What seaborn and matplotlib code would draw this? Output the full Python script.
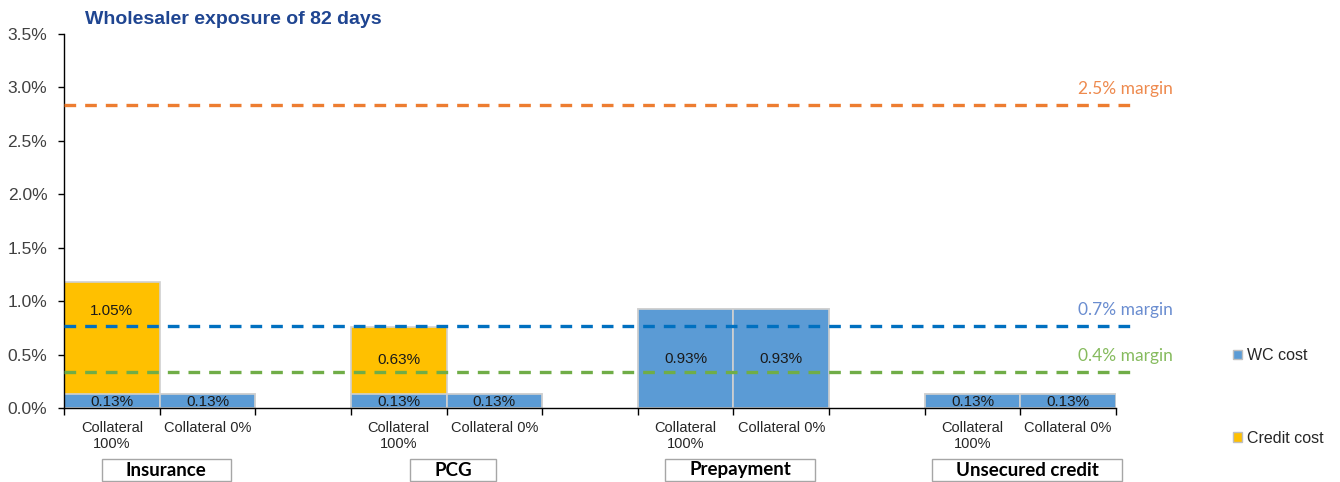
import numpy as np
import pandas as pd
import matplotlib
matplotlib.use("Agg")
import matplotlib.pyplot as plt
from matplotlib.patches import Patch, Rectangle
from matplotlib.ticker import FuncFormatter, FixedLocator
from matplotlib.transforms import blended_transform_factory
import seaborn as sns

# ---- data -------------------------------------------------------------
groups = ["Insurance", "PCG", "Prepayment", "Unsecured credit"]
collateral = ["Collateral\n100%", "Collateral 0%"]
wc_cost = [0.13, 0.13, 0.13, 0.13, 0.93, 0.93, 0.13, 0.13]        # %
credit_cost = [1.05, 0.0, 0.63, 0.0, 0.0, 0.0, 0.0, 0.0]          # %
margin_labels = ["2.5% margin", "0.7% margin", "0.4% margin"]
margin_levels = [2.835, 0.767, 0.337]                              # %
y_ticks = [0.0, 0.5, 1.0, 1.5, 2.0, 2.5, 3.0, 3.5]
title = "Wholesaler exposure of 82 days"

# ---- styling ----------------------------------------------------------
WC_COLOR = "#5B9BD5"
CREDIT_COLOR = "#FFC000"
EDGE = "#D0D0D0"
line_colors = ["#ED7D31", "#0070C0", "#70AD47"]
label_colors = ["#EE8A4E", "#6A8DD0", "#86BB5E"]
ARIAL = "Liberation Sans"
CALIBRI = "Lato"

sns.set_theme(style="white")
plt.rcParams["font.family"] = [ARIAL, "DejaVu Sans"]

W, H = 1340, 482

# two bars per group, one empty slot between groups
n_sub = len(collateral)
pos = [g * (n_sub + 1) + s for g in range(len(groups)) for s in range(n_sub)]
df = pd.DataFrame({
    "pos": pos,
    "wc": wc_cost,
    "credit": credit_cost,
})
df["total"] = df["wc"] + df["credit"]

fig = plt.figure(figsize=(W / 100, H / 100), dpi=100)
ax = fig.add_axes([64 / W, 1 - 408 / H, (1116 - 64) / W, (408 - 34) / H])

# stacked bars: full stack in credit colour, WC portion drawn over it
sns.barplot(data=df, x="pos", y="total", native_scale=True, width=1.0,
            color=CREDIT_COLOR, saturation=1, edgecolor=EDGE, linewidth=1.2, ax=ax)
sns.barplot(data=df, x="pos", y="wc", native_scale=True, width=1.0,
            color=WC_COLOR, saturation=1, edgecolor=EDGE, linewidth=1.2, ax=ax)

xmin, xmax = -0.5, max(pos) + 0.5
ax.set_xlim(xmin, xmax)
ax.set_ylim(0, 3.5)

# margin reference lines, running a little past the last bar
for lvl, c in zip(margin_levels, line_colors):
    ax.axhline(lvl, xmin=0, xmax=1.021, color=c, lw=2.4, dashes=(3.5, 2.7),
               clip_on=False, zorder=5)
for lvl, txt, c in zip(margin_levels, margin_labels, label_colors):
    ax.text(1.0545, lvl + 0.075, txt, transform=ax.get_yaxis_transform(),
            ha="right", va="bottom", fontsize=12.5, color=c, family=CALIBRI,
            clip_on=False)

# value labels
label_nudge = {0: 0.255}
for i, row in df.iterrows():
    ax.text(row["pos"], row["wc"] / 2 - 0.01, f"{row['wc']:.2f}%", ha="center",
            va="center", fontsize=11, color="#1A1A1A", zorder=6)
    if row["credit"] > 0:
        y = row["wc"] + row["credit"] / 2 + label_nudge.get(i, 0)
        ax.text(row["pos"], y, f"{row['credit']:.2f}%", ha="center",
                va="center", fontsize=11, color="#1A1A1A", zorder=6)

# axes cosmetics
for side in ["top", "right"]:
    ax.spines[side].set_visible(False)
for side in ["left", "bottom"]:
    ax.spines[side].set_color("#000000")
    ax.spines[side].set_linewidth(1.0)
ax.set_xlabel("")
ax.set_ylabel("")

ax.yaxis.set_major_locator(FixedLocator(y_ticks))
ax.yaxis.set_major_formatter(FuncFormatter(lambda v, _: f"{v:.1f}%"))
ax.tick_params(axis="y", left=True, length=4, width=1, color="#000000",
               labelsize=12.5, labelcolor="#404040", pad=8)

# tick marks on bar edges, labels under bar centres
edges = sorted({p - 0.5 for p in pos} | {p + 0.5 for p in pos})
ax.xaxis.set_major_locator(FixedLocator(edges))
ax.xaxis.set_major_formatter(FuncFormatter(lambda v, _: ""))
ax.xaxis.set_minor_locator(FixedLocator(pos))
ax.set_xticklabels([collateral[i % n_sub] for i in range(len(pos))], minor=True)
ax.tick_params(axis="x", which="major", bottom=True, length=5, width=1,
               color="#000000")
ax.tick_params(axis="x", which="minor", bottom=True, length=0, labelsize=10.5,
               labelcolor="#262626", pad=9)
ax.grid(False)

# group name boxes under each pair
trans = blended_transform_factory(ax.transData, fig.transFigure)
fig.canvas.draw()
renderer = fig.canvas.get_renderer()
box_cy = 470
for g, name in enumerate(groups):
    centre = np.mean(pos[g * n_sub:(g + 1) * n_sub])
    t = fig.text(centre + 0.07, 1 - box_cy / H, name, transform=trans,
                 ha="center", va="center", fontsize=13.5, fontweight="bold",
                 family=CALIBRI, color="#000000", zorder=3)
    bb = t.get_window_extent(renderer)
    pad_x, box_h = 24, 22
    fig.add_artist(Rectangle(((bb.x0 - pad_x) / W, (H - box_cy - box_h / 2) / H),
                             (bb.width + 2 * pad_x) / W, box_h / H,
                             transform=fig.transFigure, fc="white",
                             ec="#A6A6A6", lw=1.0, zorder=2))

fig.text(85 / W, 1 - 20 / H, title, ha="left", va="center",
         fontsize=14, fontweight="bold", color="#1F4591")

legend_handles = [Patch(facecolor=WC_COLOR, edgecolor="#BFBFBF", label="WC cost"),
                  Patch(facecolor=CREDIT_COLOR, edgecolor="#BFBFBF", label="Credit cost")]
fig.legend(handles=legend_handles, loc="upper left",
           bbox_to_anchor=(1233 / W, 1 - 348 / H), frameon=False,
           handlelength=0.55, handleheight=0.55, handletextpad=0.35,
           labelspacing=4.25, borderpad=0, borderaxespad=0,
           prop={"family": ARIAL, "size": 11.5})

fig.savefig("out.png", dpi=100)
